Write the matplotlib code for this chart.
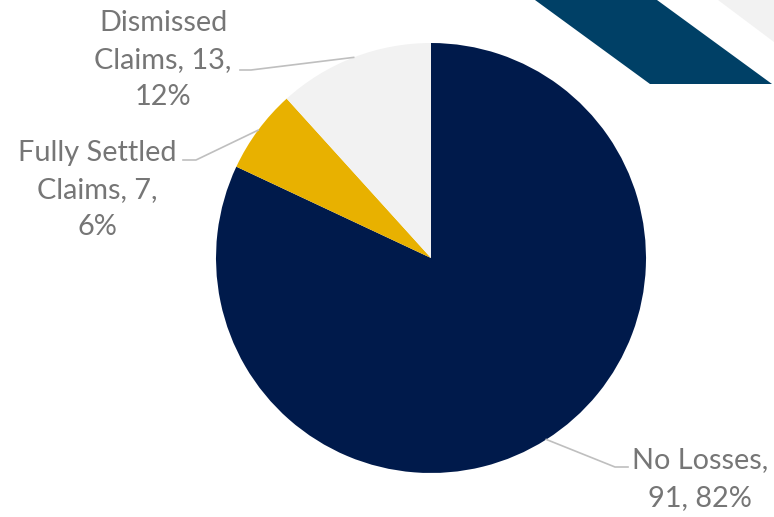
import numpy as np
import matplotlib
matplotlib.use("Agg")
import matplotlib.pyplot as plt
from matplotlib.patches import Polygon

categories = ["No Losses", "Fully Settled Claims", "Dismissed Claims"]
counts = [91, 7, 13]
percents = ["82%", "6%", "12%"]
label_texts = ["No Losses,\n91, 82%",
               "Fully Settled\nClaims, 7,\n6%",
               "Dismissed\nClaims, 13,\n12%"]
colors = ["#001A4B", "#E8B100", "#F2F2F2"]

W, H = 774, 517
fig = plt.figure(figsize=(W / 100, H / 100), dpi=100)
ax = fig.add_axes([0, 0, 1, 1])

# decorative corner bands
ax.add_patch(Polygon([(718, H), (W, H), (W, H - 42)], closed=True,
                     facecolor="#F2F2F2", edgecolor="none", zorder=0))
ax.add_patch(Polygon([(535, H), (657, H), (772, H - 84), (650, H - 84)],
                     closed=True, facecolor="#004066", edgecolor="none", zorder=0))

cx, cy, r = 431, H - 258, 215
wedges, _ = ax.pie(counts, colors=colors, startangle=90, counterclock=False,
                   center=(cx, cy), radius=r, frame=True,
                   wedgeprops=dict(linewidth=0))
ax.set_xlim(0, W)
ax.set_ylim(0, H)
ax.set_aspect("equal")
ax.axis("off")

font = dict(family=["Lato", "DejaVu Sans"], fontsize=20.8, color="#767676",
            ha="center", va="center", linespacing=1.53)

label_pos = [(700, H - 479), (97, H - 190), (163, H - 60)]
elbows = [((615, H - 467), (628, H - 467)),
          ((183, H - 160), (196, H - 160)),
          ((240, H - 70), (251, H - 70))]

for w, txt, (tx, ty), (e1, e2) in zip(wedges, label_texts, label_pos, elbows):
    mid = np.deg2rad((w.theta1 + w.theta2) / 2)
    px, py = cx + r * np.cos(mid), cy + r * np.sin(mid)
    if tx > cx:
        xs, ys = [px, e1[0], e2[0]], [py, e1[1], e2[1]]
    else:
        xs, ys = [px, e2[0], e1[0]], [py, e2[1], e1[1]]
    ax.plot(xs, ys, color="#BFBFBF", lw=1.2, zorder=3)
    ax.text(tx, ty, txt, **font)

fig.savefig("out.png", dpi=100)
